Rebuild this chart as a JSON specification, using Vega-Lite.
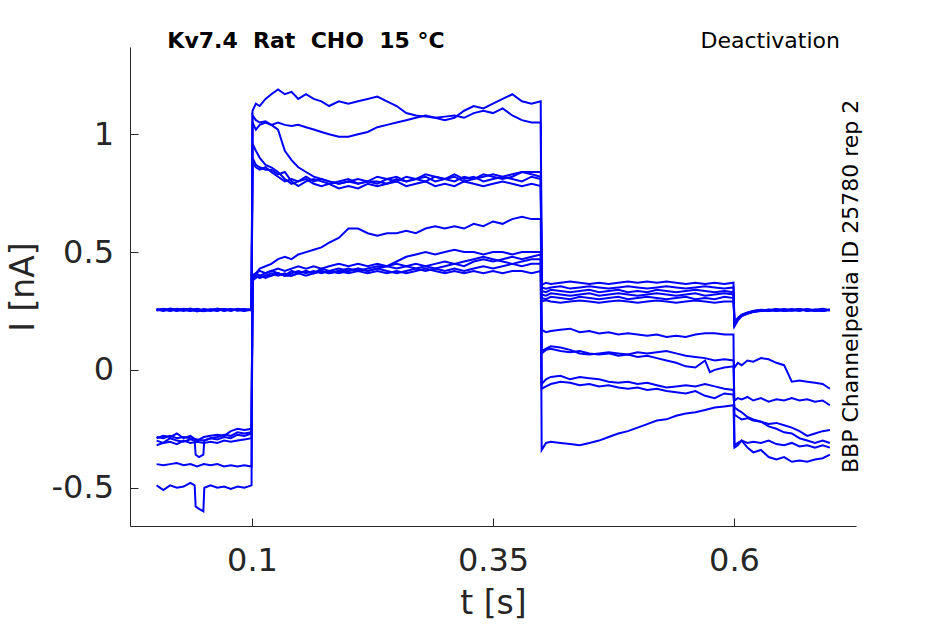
{
"$schema":"https://vega.github.io/schema/vega-lite/v6.json",
"width":726,"height":479,"autosize":"none",
"padding":{"left":130,"top":47,"right":89,"bottom":98},
"config":{"view":{"stroke":null},"font":"DejaVu Sans",
"axis":{"grid":false,"domainColor":"#262626","tickColor":"#262626","labelColor":"#262626","titleColor":"#262626","labelFontSize":32,"titleFontSize":33,"labelFont":"DejaVu Sans","titleFont":"DejaVu Sans","titleFontWeight":"normal","tickSize":-8,"titlePadding":11,"labelFlush":false,"labelOverlap":false},
"axisX":{"labelPadding":27},"axisY":{"labelPadding":24.5}},
"layer":[
{"data":{"values":[
{"s":1,"t":0.001,"v":0.258},{"s":1,"t":0.008,"v":0.252},{"s":1,"t":0.015,"v":0.26},{"s":1,"t":0.022,"v":0.255},{"s":1,"t":0.029,"v":0.25},{"s":1,"t":0.036,"v":0.258},{"s":1,"t":0.043,"v":0.248},{"s":1,"t":0.05,"v":0.256},{"s":1,"t":0.057,"v":0.252},{"s":1,"t":0.064,"v":0.26},{"s":1,"t":0.071,"v":0.254},{"s":1,"t":0.078,"v":0.258},{"s":1,"t":0.085,"v":0.251},{"s":1,"t":0.092,"v":0.257},{"s":1,"t":0.0995,"v":0.255},
{"s":1,"t":0.1005,"v":1.10},{"s":1,"t":0.104,"v":1.13},{"s":1,"t":0.108,"v":1.12},{"s":1,"t":0.114,"v":1.15},{"s":1,"t":0.12,"v":1.17},{"s":1,"t":0.127,"v":1.19},{"s":1,"t":0.134,"v":1.17},{"s":1,"t":0.141,"v":1.18},{"s":1,"t":0.148,"v":1.15},{"s":1,"t":0.156,"v":1.17},{"s":1,"t":0.164,"v":1.15},{"s":1,"t":0.172,"v":1.14},{"s":1,"t":0.18,"v":1.12},{"s":1,"t":0.19,"v":1.14},{"s":1,"t":0.2,"v":1.13},{"s":1,"t":0.21,"v":1.14},{"s":1,"t":0.22,"v":1.15},{"s":1,"t":0.23,"v":1.16},{"s":1,"t":0.24,"v":1.14},{"s":1,"t":0.25,"v":1.12},{"s":1,"t":0.26,"v":1.09},{"s":1,"t":0.27,"v":1.08},{"s":1,"t":0.28,"v":1.075},{"s":1,"t":0.29,"v":1.07},{"s":1,"t":0.3,"v":1.06},{"s":1,"t":0.31,"v":1.07},{"s":1,"t":0.32,"v":1.10},{"s":1,"t":0.33,"v":1.12},{"s":1,"t":0.34,"v":1.11},{"s":1,"t":0.35,"v":1.13},{"s":1,"t":0.36,"v":1.15},{"s":1,"t":0.37,"v":1.17},{"s":1,"t":0.38,"v":1.14},{"s":1,"t":0.39,"v":1.13},{"s":1,"t":0.3995,"v":1.14},
{"s":1,"t":0.4005,"v":0.36},{"s":1,"t":0.405,"v":0.37},{"s":1,"t":0.41,"v":0.365},{"s":1,"t":0.42,"v":0.37},{"s":1,"t":0.43,"v":0.375},{"s":1,"t":0.44,"v":0.37},{"s":1,"t":0.45,"v":0.365},{"s":1,"t":0.46,"v":0.37},{"s":1,"t":0.47,"v":0.365},{"s":1,"t":0.48,"v":0.37},{"s":1,"t":0.49,"v":0.375},{"s":1,"t":0.5,"v":0.37},{"s":1,"t":0.51,"v":0.375},{"s":1,"t":0.52,"v":0.37},{"s":1,"t":0.53,"v":0.375},{"s":1,"t":0.54,"v":0.37},{"s":1,"t":0.55,"v":0.365},{"s":1,"t":0.56,"v":0.37},{"s":1,"t":0.57,"v":0.365},{"s":1,"t":0.58,"v":0.37},{"s":1,"t":0.59,"v":0.365},{"s":1,"t":0.5995,"v":0.37},
{"s":1,"t":0.6005,"v":0.19},{"s":1,"t":0.604,"v":0.215},{"s":1,"t":0.608,"v":0.23},{"s":1,"t":0.614,"v":0.24},{"s":1,"t":0.62,"v":0.248},{"s":1,"t":0.628,"v":0.252},{"s":1,"t":0.636,"v":0.256},{"s":1,"t":0.644,"v":0.25},{"s":1,"t":0.652,"v":0.254},{"s":1,"t":0.66,"v":0.258},{"s":1,"t":0.668,"v":0.252},{"s":1,"t":0.676,"v":0.256},{"s":1,"t":0.684,"v":0.25},{"s":1,"t":0.692,"v":0.257},{"s":1,"t":0.6995,"v":0.254},

{"s":2,"t":0.001,"v":0.254},{"s":2,"t":0.008,"v":0.259},{"s":2,"t":0.015,"v":0.251},{"s":2,"t":0.022,"v":0.257},{"s":2,"t":0.029,"v":0.253},{"s":2,"t":0.036,"v":0.26},{"s":2,"t":0.043,"v":0.252},{"s":2,"t":0.05,"v":0.249},{"s":2,"t":0.057,"v":0.257},{"s":2,"t":0.064,"v":0.253},{"s":2,"t":0.071,"v":0.258},{"s":2,"t":0.078,"v":0.252},{"s":2,"t":0.085,"v":0.259},{"s":2,"t":0.092,"v":0.253},{"s":2,"t":0.0995,"v":0.256},
{"s":2,"t":0.1005,"v":1.05},{"s":2,"t":0.104,"v":1.02},{"s":2,"t":0.108,"v":1.04},{"s":2,"t":0.114,"v":1.05},{"s":2,"t":0.12,"v":1.04},{"s":2,"t":0.127,"v":1.05},{"s":2,"t":0.134,"v":1.04},{"s":2,"t":0.141,"v":1.035},{"s":2,"t":0.148,"v":1.04},{"s":2,"t":0.156,"v":1.03},{"s":2,"t":0.164,"v":1.02},{"s":2,"t":0.172,"v":1.01},{"s":2,"t":0.18,"v":1.00},{"s":2,"t":0.19,"v":0.99},{"s":2,"t":0.2,"v":0.99},{"s":2,"t":0.21,"v":1.00},{"s":2,"t":0.22,"v":1.01},{"s":2,"t":0.23,"v":1.03},{"s":2,"t":0.24,"v":1.04},{"s":2,"t":0.25,"v":1.05},{"s":2,"t":0.26,"v":1.06},{"s":2,"t":0.27,"v":1.07},{"s":2,"t":0.28,"v":1.08},{"s":2,"t":0.29,"v":1.07},{"s":2,"t":0.3,"v":1.075},{"s":2,"t":0.31,"v":1.08},{"s":2,"t":0.32,"v":1.07},{"s":2,"t":0.33,"v":1.09},{"s":2,"t":0.34,"v":1.10},{"s":2,"t":0.35,"v":1.09},{"s":2,"t":0.36,"v":1.11},{"s":2,"t":0.37,"v":1.08},{"s":2,"t":0.38,"v":1.06},{"s":2,"t":0.39,"v":1.05},{"s":2,"t":0.3995,"v":1.05},
{"s":2,"t":0.4005,"v":0.35},{"s":2,"t":0.405,"v":0.345},{"s":2,"t":0.41,"v":0.35},{"s":2,"t":0.42,"v":0.355},{"s":2,"t":0.43,"v":0.345},{"s":2,"t":0.44,"v":0.35},{"s":2,"t":0.45,"v":0.355},{"s":2,"t":0.46,"v":0.35},{"s":2,"t":0.47,"v":0.345},{"s":2,"t":0.48,"v":0.35},{"s":2,"t":0.49,"v":0.355},{"s":2,"t":0.5,"v":0.35},{"s":2,"t":0.51,"v":0.345},{"s":2,"t":0.52,"v":0.35},{"s":2,"t":0.53,"v":0.355},{"s":2,"t":0.54,"v":0.35},{"s":2,"t":0.55,"v":0.345},{"s":2,"t":0.56,"v":0.35},{"s":2,"t":0.57,"v":0.355},{"s":2,"t":0.58,"v":0.35},{"s":2,"t":0.59,"v":0.345},{"s":2,"t":0.5995,"v":0.35},
{"s":2,"t":0.6005,"v":0.2},{"s":2,"t":0.604,"v":0.22},{"s":2,"t":0.608,"v":0.232},{"s":2,"t":0.614,"v":0.242},{"s":2,"t":0.62,"v":0.25},{"s":2,"t":0.628,"v":0.254},{"s":2,"t":0.636,"v":0.25},{"s":2,"t":0.644,"v":0.256},{"s":2,"t":0.652,"v":0.252},{"s":2,"t":0.66,"v":0.255},{"s":2,"t":0.668,"v":0.25},{"s":2,"t":0.676,"v":0.258},{"s":2,"t":0.684,"v":0.253},{"s":2,"t":0.692,"v":0.25},{"s":2,"t":0.6995,"v":0.256},

{"s":3,"t":0.001,"v":0.256},{"s":3,"t":0.008,"v":0.25},{"s":3,"t":0.015,"v":0.257},{"s":3,"t":0.022,"v":0.252},{"s":3,"t":0.029,"v":0.258},{"s":3,"t":0.036,"v":0.251},{"s":3,"t":0.043,"v":0.256},{"s":3,"t":0.05,"v":0.254},{"s":3,"t":0.057,"v":0.25},{"s":3,"t":0.064,"v":0.257},{"s":3,"t":0.071,"v":0.252},{"s":3,"t":0.078,"v":0.256},{"s":3,"t":0.085,"v":0.254},{"s":3,"t":0.092,"v":0.25},{"s":3,"t":0.0995,"v":0.256},
{"s":3,"t":0.1005,"v":1.08},{"s":3,"t":0.104,"v":1.06},{"s":3,"t":0.108,"v":1.05},{"s":3,"t":0.114,"v":1.055},{"s":3,"t":0.12,"v":1.04},{"s":3,"t":0.127,"v":1.02},{"s":3,"t":0.134,"v":0.93},{"s":3,"t":0.141,"v":0.89},{"s":3,"t":0.148,"v":0.86},{"s":3,"t":0.156,"v":0.84},{"s":3,"t":0.164,"v":0.82},{"s":3,"t":0.172,"v":0.81},{"s":3,"t":0.18,"v":0.80},{"s":3,"t":0.19,"v":0.79},{"s":3,"t":0.2,"v":0.80},{"s":3,"t":0.21,"v":0.79},{"s":3,"t":0.22,"v":0.80},{"s":3,"t":0.23,"v":0.80},{"s":3,"t":0.24,"v":0.79},{"s":3,"t":0.25,"v":0.81},{"s":3,"t":0.26,"v":0.80},{"s":3,"t":0.27,"v":0.81},{"s":3,"t":0.28,"v":0.82},{"s":3,"t":0.29,"v":0.80},{"s":3,"t":0.3,"v":0.81},{"s":3,"t":0.31,"v":0.82},{"s":3,"t":0.32,"v":0.80},{"s":3,"t":0.33,"v":0.81},{"s":3,"t":0.34,"v":0.82},{"s":3,"t":0.35,"v":0.83},{"s":3,"t":0.36,"v":0.82},{"s":3,"t":0.37,"v":0.83},{"s":3,"t":0.38,"v":0.84},{"s":3,"t":0.39,"v":0.84},{"s":3,"t":0.3995,"v":0.84},
{"s":3,"t":0.4005,"v":0.335},{"s":3,"t":0.405,"v":0.33},{"s":3,"t":0.41,"v":0.34},{"s":3,"t":0.42,"v":0.335},{"s":3,"t":0.43,"v":0.33},{"s":3,"t":0.44,"v":0.335},{"s":3,"t":0.45,"v":0.34},{"s":3,"t":0.46,"v":0.33},{"s":3,"t":0.47,"v":0.335},{"s":3,"t":0.48,"v":0.34},{"s":3,"t":0.49,"v":0.33},{"s":3,"t":0.5,"v":0.335},{"s":3,"t":0.51,"v":0.33},{"s":3,"t":0.52,"v":0.34},{"s":3,"t":0.53,"v":0.335},{"s":3,"t":0.54,"v":0.33},{"s":3,"t":0.55,"v":0.335},{"s":3,"t":0.56,"v":0.34},{"s":3,"t":0.57,"v":0.335},{"s":3,"t":0.58,"v":0.33},{"s":3,"t":0.59,"v":0.335},{"s":3,"t":0.5995,"v":0.33},
{"s":3,"t":0.6005,"v":0.185},{"s":3,"t":0.604,"v":0.21},{"s":3,"t":0.608,"v":0.228},{"s":3,"t":0.614,"v":0.238},{"s":3,"t":0.62,"v":0.246},{"s":3,"t":0.628,"v":0.25},{"s":3,"t":0.636,"v":0.254},{"s":3,"t":0.644,"v":0.258},{"s":3,"t":0.652,"v":0.25},{"s":3,"t":0.66,"v":0.253},{"s":3,"t":0.668,"v":0.257},{"s":3,"t":0.676,"v":0.25},{"s":3,"t":0.684,"v":0.255},{"s":3,"t":0.692,"v":0.259},{"s":3,"t":0.6995,"v":0.252},

{"s":4,"t":0.001,"v":0.252},{"s":4,"t":0.008,"v":0.256},{"s":4,"t":0.015,"v":0.25},{"s":4,"t":0.022,"v":0.259},{"s":4,"t":0.029,"v":0.254},{"s":4,"t":0.036,"v":0.25},{"s":4,"t":0.043,"v":0.257},{"s":4,"t":0.05,"v":0.252},{"s":4,"t":0.057,"v":0.256},{"s":4,"t":0.064,"v":0.25},{"s":4,"t":0.071,"v":0.258},{"s":4,"t":0.078,"v":0.253},{"s":4,"t":0.085,"v":0.256},{"s":4,"t":0.092,"v":0.252},{"s":4,"t":0.0995,"v":0.258},
{"s":4,"t":0.1005,"v":0.96},{"s":4,"t":0.104,"v":0.93},{"s":4,"t":0.108,"v":0.90},{"s":4,"t":0.114,"v":0.87},{"s":4,"t":0.12,"v":0.86},{"s":4,"t":0.127,"v":0.84},{"s":4,"t":0.134,"v":0.81},{"s":4,"t":0.141,"v":0.79},{"s":4,"t":0.148,"v":0.80},{"s":4,"t":0.156,"v":0.81},{"s":4,"t":0.164,"v":0.79},{"s":4,"t":0.172,"v":0.78},{"s":4,"t":0.18,"v":0.79},{"s":4,"t":0.19,"v":0.77},{"s":4,"t":0.2,"v":0.78},{"s":4,"t":0.21,"v":0.77},{"s":4,"t":0.22,"v":0.79},{"s":4,"t":0.23,"v":0.78},{"s":4,"t":0.24,"v":0.79},{"s":4,"t":0.25,"v":0.80},{"s":4,"t":0.26,"v":0.78},{"s":4,"t":0.27,"v":0.79},{"s":4,"t":0.28,"v":0.80},{"s":4,"t":0.29,"v":0.78},{"s":4,"t":0.3,"v":0.79},{"s":4,"t":0.31,"v":0.78},{"s":4,"t":0.32,"v":0.80},{"s":4,"t":0.33,"v":0.79},{"s":4,"t":0.34,"v":0.78},{"s":4,"t":0.35,"v":0.79},{"s":4,"t":0.36,"v":0.80},{"s":4,"t":0.37,"v":0.79},{"s":4,"t":0.38,"v":0.78},{"s":4,"t":0.39,"v":0.79},{"s":4,"t":0.3995,"v":0.78},
{"s":4,"t":0.4005,"v":0.32},{"s":4,"t":0.405,"v":0.315},{"s":4,"t":0.41,"v":0.325},{"s":4,"t":0.42,"v":0.32},{"s":4,"t":0.43,"v":0.315},{"s":4,"t":0.44,"v":0.32},{"s":4,"t":0.45,"v":0.325},{"s":4,"t":0.46,"v":0.315},{"s":4,"t":0.47,"v":0.32},{"s":4,"t":0.48,"v":0.325},{"s":4,"t":0.49,"v":0.32},{"s":4,"t":0.5,"v":0.315},{"s":4,"t":0.51,"v":0.32},{"s":4,"t":0.52,"v":0.325},{"s":4,"t":0.53,"v":0.32},{"s":4,"t":0.54,"v":0.315},{"s":4,"t":0.55,"v":0.32},{"s":4,"t":0.56,"v":0.325},{"s":4,"t":0.57,"v":0.315},{"s":4,"t":0.58,"v":0.32},{"s":4,"t":0.59,"v":0.325},{"s":4,"t":0.5995,"v":0.32},
{"s":4,"t":0.6005,"v":0.19},{"s":4,"t":0.604,"v":0.212},{"s":4,"t":0.608,"v":0.23},{"s":4,"t":0.614,"v":0.24},{"s":4,"t":0.62,"v":0.247},{"s":4,"t":0.628,"v":0.251},{"s":4,"t":0.636,"v":0.255},{"s":4,"t":0.644,"v":0.25},{"s":4,"t":0.652,"v":0.256},{"s":4,"t":0.66,"v":0.252},{"s":4,"t":0.668,"v":0.257},{"s":4,"t":0.676,"v":0.251},{"s":4,"t":0.684,"v":0.254},{"s":4,"t":0.692,"v":0.25},{"s":4,"t":0.6995,"v":0.255},

{"s":5,"t":0.001,"v":0.257},{"s":5,"t":0.008,"v":0.253},{"s":5,"t":0.015,"v":0.258},{"s":5,"t":0.022,"v":0.25},{"s":5,"t":0.029,"v":0.256},{"s":5,"t":0.036,"v":0.254},{"s":5,"t":0.043,"v":0.259},{"s":5,"t":0.05,"v":0.251},{"s":5,"t":0.057,"v":0.255},{"s":5,"t":0.064,"v":0.258},{"s":5,"t":0.071,"v":0.25},{"s":5,"t":0.078,"v":0.256},{"s":5,"t":0.085,"v":0.253},{"s":5,"t":0.092,"v":0.258},{"s":5,"t":0.0995,"v":0.252},
{"s":5,"t":0.1005,"v":0.90},{"s":5,"t":0.104,"v":0.87},{"s":5,"t":0.108,"v":0.86},{"s":5,"t":0.114,"v":0.85},{"s":5,"t":0.12,"v":0.85},{"s":5,"t":0.127,"v":0.83},{"s":5,"t":0.134,"v":0.84},{"s":5,"t":0.141,"v":0.80},{"s":5,"t":0.148,"v":0.78},{"s":5,"t":0.156,"v":0.80},{"s":5,"t":0.164,"v":0.81},{"s":5,"t":0.172,"v":0.80},{"s":5,"t":0.18,"v":0.79},{"s":5,"t":0.19,"v":0.80},{"s":5,"t":0.2,"v":0.81},{"s":5,"t":0.21,"v":0.79},{"s":5,"t":0.22,"v":0.80},{"s":5,"t":0.23,"v":0.82},{"s":5,"t":0.24,"v":0.81},{"s":5,"t":0.25,"v":0.80},{"s":5,"t":0.26,"v":0.82},{"s":5,"t":0.27,"v":0.81},{"s":5,"t":0.28,"v":0.80},{"s":5,"t":0.29,"v":0.82},{"s":5,"t":0.3,"v":0.81},{"s":5,"t":0.31,"v":0.83},{"s":5,"t":0.32,"v":0.81},{"s":5,"t":0.33,"v":0.82},{"s":5,"t":0.34,"v":0.80},{"s":5,"t":0.35,"v":0.81},{"s":5,"t":0.36,"v":0.82},{"s":5,"t":0.37,"v":0.81},{"s":5,"t":0.38,"v":0.80},{"s":5,"t":0.39,"v":0.82},{"s":5,"t":0.3995,"v":0.81},
{"s":5,"t":0.4005,"v":0.305},{"s":5,"t":0.405,"v":0.3},{"s":5,"t":0.41,"v":0.31},{"s":5,"t":0.42,"v":0.305},{"s":5,"t":0.43,"v":0.3},{"s":5,"t":0.44,"v":0.31},{"s":5,"t":0.45,"v":0.305},{"s":5,"t":0.46,"v":0.3},{"s":5,"t":0.47,"v":0.305},{"s":5,"t":0.48,"v":0.31},{"s":5,"t":0.49,"v":0.3},{"s":5,"t":0.5,"v":0.305},{"s":5,"t":0.51,"v":0.31},{"s":5,"t":0.52,"v":0.305},{"s":5,"t":0.53,"v":0.3},{"s":5,"t":0.54,"v":0.305},{"s":5,"t":0.55,"v":0.31},{"s":5,"t":0.56,"v":0.3},{"s":5,"t":0.57,"v":0.305},{"s":5,"t":0.58,"v":0.3},{"s":5,"t":0.59,"v":0.31},{"s":5,"t":0.5995,"v":0.305},
{"s":5,"t":0.6005,"v":0.195},{"s":5,"t":0.604,"v":0.218},{"s":5,"t":0.608,"v":0.232},{"s":5,"t":0.614,"v":0.242},{"s":5,"t":0.62,"v":0.248},{"s":5,"t":0.628,"v":0.253},{"s":5,"t":0.636,"v":0.25},{"s":5,"t":0.644,"v":0.255},{"s":5,"t":0.652,"v":0.258},{"s":5,"t":0.66,"v":0.251},{"s":5,"t":0.668,"v":0.254},{"s":5,"t":0.676,"v":0.257},{"s":5,"t":0.684,"v":0.25},{"s":5,"t":0.692,"v":0.255},{"s":5,"t":0.6995,"v":0.253},

{"s":6,"t":0.001,"v":0.253},{"s":6,"t":0.008,"v":0.258},{"s":6,"t":0.015,"v":0.254},{"s":6,"t":0.022,"v":0.252},{"s":6,"t":0.029,"v":0.259},{"s":6,"t":0.036,"v":0.255},{"s":6,"t":0.043,"v":0.25},{"s":6,"t":0.05,"v":0.258},{"s":6,"t":0.057,"v":0.254},{"s":6,"t":0.064,"v":0.252},{"s":6,"t":0.071,"v":0.257},{"s":6,"t":0.078,"v":0.25},{"s":6,"t":0.085,"v":0.258},{"s":6,"t":0.092,"v":0.255},{"s":6,"t":0.0995,"v":0.254},
{"s":6,"t":0.1005,"v":0.88},{"s":6,"t":0.104,"v":0.86},{"s":6,"t":0.108,"v":0.85},{"s":6,"t":0.114,"v":0.86},{"s":6,"t":0.12,"v":0.84},{"s":6,"t":0.127,"v":0.82},{"s":6,"t":0.134,"v":0.80},{"s":6,"t":0.141,"v":0.81},{"s":6,"t":0.148,"v":0.80},{"s":6,"t":0.156,"v":0.82},{"s":6,"t":0.164,"v":0.80},{"s":6,"t":0.172,"v":0.81},{"s":6,"t":0.18,"v":0.80},{"s":6,"t":0.19,"v":0.79},{"s":6,"t":0.2,"v":0.80},{"s":6,"t":0.21,"v":0.81},{"s":6,"t":0.22,"v":0.80},{"s":6,"t":0.23,"v":0.79},{"s":6,"t":0.24,"v":0.81},{"s":6,"t":0.25,"v":0.82},{"s":6,"t":0.26,"v":0.80},{"s":6,"t":0.27,"v":0.81},{"s":6,"t":0.28,"v":0.83},{"s":6,"t":0.29,"v":0.82},{"s":6,"t":0.3,"v":0.81},{"s":6,"t":0.31,"v":0.80},{"s":6,"t":0.32,"v":0.82},{"s":6,"t":0.33,"v":0.81},{"s":6,"t":0.34,"v":0.83},{"s":6,"t":0.35,"v":0.82},{"s":6,"t":0.36,"v":0.81},{"s":6,"t":0.37,"v":0.82},{"s":6,"t":0.38,"v":0.84},{"s":6,"t":0.39,"v":0.83},{"s":6,"t":0.3995,"v":0.82},
{"s":6,"t":0.4005,"v":0.29},{"s":6,"t":0.405,"v":0.295},{"s":6,"t":0.41,"v":0.29},{"s":6,"t":0.42,"v":0.285},{"s":6,"t":0.43,"v":0.29},{"s":6,"t":0.44,"v":0.295},{"s":6,"t":0.45,"v":0.29},{"s":6,"t":0.46,"v":0.285},{"s":6,"t":0.47,"v":0.29},{"s":6,"t":0.48,"v":0.295},{"s":6,"t":0.49,"v":0.29},{"s":6,"t":0.5,"v":0.285},{"s":6,"t":0.51,"v":0.29},{"s":6,"t":0.52,"v":0.295},{"s":6,"t":0.53,"v":0.29},{"s":6,"t":0.54,"v":0.285},{"s":6,"t":0.55,"v":0.29},{"s":6,"t":0.56,"v":0.295},{"s":6,"t":0.57,"v":0.29},{"s":6,"t":0.58,"v":0.285},{"s":6,"t":0.59,"v":0.29},{"s":6,"t":0.5995,"v":0.29},
{"s":6,"t":0.6005,"v":0.2},{"s":6,"t":0.604,"v":0.22},{"s":6,"t":0.608,"v":0.235},{"s":6,"t":0.614,"v":0.244},{"s":6,"t":0.62,"v":0.25},{"s":6,"t":0.628,"v":0.255},{"s":6,"t":0.636,"v":0.252},{"s":6,"t":0.644,"v":0.256},{"s":6,"t":0.652,"v":0.25},{"s":6,"t":0.66,"v":0.254},{"s":6,"t":0.668,"v":0.258},{"s":6,"t":0.676,"v":0.252},{"s":6,"t":0.684,"v":0.256},{"s":6,"t":0.692,"v":0.251},{"s":6,"t":0.6995,"v":0.255},

{"s":7,"t":0.001,"v":-0.29},{"s":7,"t":0.008,"v":-0.28},{"s":7,"t":0.015,"v":-0.285},{"s":7,"t":0.022,"v":-0.27},{"s":7,"t":0.029,"v":-0.29},{"s":7,"t":0.036,"v":-0.28},{"s":7,"t":0.043,"v":-0.3},{"s":7,"t":0.05,"v":-0.285},{"s":7,"t":0.057,"v":-0.28},{"s":7,"t":0.064,"v":-0.275},{"s":7,"t":0.071,"v":-0.28},{"s":7,"t":0.078,"v":-0.26},{"s":7,"t":0.085,"v":-0.25},{"s":7,"t":0.092,"v":-0.255},{"s":7,"t":0.0995,"v":-0.25},
{"s":7,"t":0.1005,"v":0.40},{"s":7,"t":0.104,"v":0.41},{"s":7,"t":0.108,"v":0.43},{"s":7,"t":0.114,"v":0.44},{"s":7,"t":0.12,"v":0.45},{"s":7,"t":0.127,"v":0.47},{"s":7,"t":0.134,"v":0.48},{"s":7,"t":0.141,"v":0.47},{"s":7,"t":0.148,"v":0.49},{"s":7,"t":0.156,"v":0.50},{"s":7,"t":0.164,"v":0.51},{"s":7,"t":0.172,"v":0.52},{"s":7,"t":0.18,"v":0.54},{"s":7,"t":0.19,"v":0.56},{"s":7,"t":0.2,"v":0.60},{"s":7,"t":0.21,"v":0.60},{"s":7,"t":0.22,"v":0.58},{"s":7,"t":0.23,"v":0.57},{"s":7,"t":0.24,"v":0.58},{"s":7,"t":0.25,"v":0.58},{"s":7,"t":0.26,"v":0.59},{"s":7,"t":0.27,"v":0.58},{"s":7,"t":0.28,"v":0.60},{"s":7,"t":0.29,"v":0.61},{"s":7,"t":0.3,"v":0.60},{"s":7,"t":0.31,"v":0.61},{"s":7,"t":0.32,"v":0.60},{"s":7,"t":0.33,"v":0.62},{"s":7,"t":0.34,"v":0.61},{"s":7,"t":0.35,"v":0.63},{"s":7,"t":0.36,"v":0.62},{"s":7,"t":0.37,"v":0.64},{"s":7,"t":0.38,"v":0.65},{"s":7,"t":0.39,"v":0.64},{"s":7,"t":0.3995,"v":0.64},
{"s":7,"t":0.4005,"v":0.17},{"s":7,"t":0.405,"v":0.16},{"s":7,"t":0.41,"v":0.165},{"s":7,"t":0.42,"v":0.17},{"s":7,"t":0.43,"v":0.175},{"s":7,"t":0.44,"v":0.16},{"s":7,"t":0.45,"v":0.165},{"s":7,"t":0.46,"v":0.155},{"s":7,"t":0.47,"v":0.16},{"s":7,"t":0.48,"v":0.15},{"s":7,"t":0.49,"v":0.155},{"s":7,"t":0.5,"v":0.15},{"s":7,"t":0.51,"v":0.145},{"s":7,"t":0.52,"v":0.15},{"s":7,"t":0.53,"v":0.14},{"s":7,"t":0.54,"v":0.145},{"s":7,"t":0.55,"v":0.14},{"s":7,"t":0.56,"v":0.15},{"s":7,"t":0.57,"v":0.155},{"s":7,"t":0.58,"v":0.155},{"s":7,"t":0.59,"v":0.15},{"s":7,"t":0.5995,"v":0.15},
{"s":7,"t":0.6005,"v":-0.33},{"s":7,"t":0.604,"v":-0.32},{"s":7,"t":0.608,"v":-0.30},{"s":7,"t":0.614,"v":-0.33},{"s":7,"t":0.62,"v":-0.35},{"s":7,"t":0.628,"v":-0.34},{"s":7,"t":0.636,"v":-0.37},{"s":7,"t":0.644,"v":-0.38},{"s":7,"t":0.652,"v":-0.37},{"s":7,"t":0.66,"v":-0.39},{"s":7,"t":0.668,"v":-0.385},{"s":7,"t":0.676,"v":-0.39},{"s":7,"t":0.684,"v":-0.38},{"s":7,"t":0.692,"v":-0.375},{"s":7,"t":0.6995,"v":-0.36},

{"s":8,"t":0.001,"v":-0.3},{"s":8,"t":0.008,"v":-0.31},{"s":8,"t":0.015,"v":-0.29},{"s":8,"t":0.022,"v":-0.3},{"s":8,"t":0.029,"v":-0.305},{"s":8,"t":0.036,"v":-0.295},{"s":8,"t":0.0405,"v":-0.3},{"s":8,"t":0.0415,"v":-0.36},{"s":8,"t":0.045,"v":-0.37},{"s":8,"t":0.0495,"v":-0.36},{"s":8,"t":0.0505,"v":-0.3},{"s":8,"t":0.057,"v":-0.29},{"s":8,"t":0.064,"v":-0.295},{"s":8,"t":0.071,"v":-0.285},{"s":8,"t":0.078,"v":-0.29},{"s":8,"t":0.085,"v":-0.275},{"s":8,"t":0.092,"v":-0.28},{"s":8,"t":0.0995,"v":-0.27},
{"s":8,"t":0.1005,"v":0.39},{"s":8,"t":0.104,"v":0.40},{"s":8,"t":0.108,"v":0.39},{"s":8,"t":0.114,"v":0.40},{"s":8,"t":0.12,"v":0.41},{"s":8,"t":0.127,"v":0.40},{"s":8,"t":0.134,"v":0.41},{"s":8,"t":0.141,"v":0.40},{"s":8,"t":0.148,"v":0.41},{"s":8,"t":0.156,"v":0.42},{"s":8,"t":0.164,"v":0.41},{"s":8,"t":0.172,"v":0.42},{"s":8,"t":0.18,"v":0.41},{"s":8,"t":0.19,"v":0.42},{"s":8,"t":0.2,"v":0.43},{"s":8,"t":0.21,"v":0.42},{"s":8,"t":0.22,"v":0.43},{"s":8,"t":0.23,"v":0.44},{"s":8,"t":0.24,"v":0.44},{"s":8,"t":0.25,"v":0.46},{"s":8,"t":0.26,"v":0.48},{"s":8,"t":0.27,"v":0.49},{"s":8,"t":0.28,"v":0.50},{"s":8,"t":0.29,"v":0.49},{"s":8,"t":0.3,"v":0.50},{"s":8,"t":0.31,"v":0.51},{"s":8,"t":0.32,"v":0.50},{"s":8,"t":0.33,"v":0.50},{"s":8,"t":0.34,"v":0.49},{"s":8,"t":0.35,"v":0.50},{"s":8,"t":0.36,"v":0.50},{"s":8,"t":0.37,"v":0.49},{"s":8,"t":0.38,"v":0.50},{"s":8,"t":0.39,"v":0.50},{"s":8,"t":0.3995,"v":0.50},
{"s":8,"t":0.4005,"v":0.08},{"s":8,"t":0.405,"v":0.09},{"s":8,"t":0.41,"v":0.10},{"s":8,"t":0.42,"v":0.095},{"s":8,"t":0.43,"v":0.085},{"s":8,"t":0.44,"v":0.07},{"s":8,"t":0.45,"v":0.065},{"s":8,"t":0.46,"v":0.07},{"s":8,"t":0.47,"v":0.075},{"s":8,"t":0.48,"v":0.07},{"s":8,"t":0.49,"v":0.065},{"s":8,"t":0.5,"v":0.075},{"s":8,"t":0.51,"v":0.07},{"s":8,"t":0.52,"v":0.075},{"s":8,"t":0.53,"v":0.08},{"s":8,"t":0.54,"v":0.07},{"s":8,"t":0.55,"v":0.06},{"s":8,"t":0.56,"v":0.055},{"s":8,"t":0.57,"v":0.05},{"s":8,"t":0.58,"v":0.04},{"s":8,"t":0.59,"v":0.045},{"s":8,"t":0.5995,"v":0.04},
{"s":8,"t":0.6005,"v":0.01},{"s":8,"t":0.604,"v":0.03},{"s":8,"t":0.608,"v":0.02},{"s":8,"t":0.614,"v":0.04},{"s":8,"t":0.62,"v":0.035},{"s":8,"t":0.628,"v":0.05},{"s":8,"t":0.636,"v":0.045},{"s":8,"t":0.644,"v":0.03},{"s":8,"t":0.652,"v":0.02},{"s":8,"t":0.66,"v":-0.05},{"s":8,"t":0.668,"v":-0.045},{"s":8,"t":0.676,"v":-0.05},{"s":8,"t":0.684,"v":-0.055},{"s":8,"t":0.692,"v":-0.06},{"s":8,"t":0.6995,"v":-0.08},

{"s":9,"t":0.001,"v":-0.32},{"s":9,"t":0.008,"v":-0.31},{"s":9,"t":0.015,"v":-0.305},{"s":9,"t":0.022,"v":-0.315},{"s":9,"t":0.029,"v":-0.3},{"s":9,"t":0.036,"v":-0.31},{"s":9,"t":0.043,"v":-0.305},{"s":9,"t":0.05,"v":-0.31},{"s":9,"t":0.057,"v":-0.305},{"s":9,"t":0.064,"v":-0.31},{"s":9,"t":0.071,"v":-0.3},{"s":9,"t":0.078,"v":-0.305},{"s":9,"t":0.085,"v":-0.3},{"s":9,"t":0.092,"v":-0.295},{"s":9,"t":0.0995,"v":-0.29},
{"s":9,"t":0.1005,"v":0.38},{"s":9,"t":0.104,"v":0.39},{"s":9,"t":0.108,"v":0.40},{"s":9,"t":0.114,"v":0.39},{"s":9,"t":0.12,"v":0.40},{"s":9,"t":0.127,"v":0.41},{"s":9,"t":0.134,"v":0.40},{"s":9,"t":0.141,"v":0.41},{"s":9,"t":0.148,"v":0.42},{"s":9,"t":0.156,"v":0.41},{"s":9,"t":0.164,"v":0.42},{"s":9,"t":0.172,"v":0.41},{"s":9,"t":0.18,"v":0.42},{"s":9,"t":0.19,"v":0.43},{"s":9,"t":0.2,"v":0.42},{"s":9,"t":0.21,"v":0.43},{"s":9,"t":0.22,"v":0.42},{"s":9,"t":0.23,"v":0.43},{"s":9,"t":0.24,"v":0.44},{"s":9,"t":0.25,"v":0.43},{"s":9,"t":0.26,"v":0.44},{"s":9,"t":0.27,"v":0.43},{"s":9,"t":0.28,"v":0.44},{"s":9,"t":0.29,"v":0.43},{"s":9,"t":0.3,"v":0.44},{"s":9,"t":0.31,"v":0.45},{"s":9,"t":0.32,"v":0.44},{"s":9,"t":0.33,"v":0.46},{"s":9,"t":0.34,"v":0.47},{"s":9,"t":0.35,"v":0.46},{"s":9,"t":0.36,"v":0.47},{"s":9,"t":0.37,"v":0.48},{"s":9,"t":0.38,"v":0.47},{"s":9,"t":0.39,"v":0.48},{"s":9,"t":0.3995,"v":0.49},
{"s":9,"t":0.4005,"v":0.07},{"s":9,"t":0.405,"v":0.085},{"s":9,"t":0.41,"v":0.09},{"s":9,"t":0.42,"v":0.08},{"s":9,"t":0.43,"v":0.075},{"s":9,"t":0.44,"v":0.08},{"s":9,"t":0.45,"v":0.07},{"s":9,"t":0.46,"v":0.065},{"s":9,"t":0.47,"v":0.07},{"s":9,"t":0.48,"v":0.06},{"s":9,"t":0.49,"v":0.065},{"s":9,"t":0.5,"v":0.055},{"s":9,"t":0.51,"v":0.06},{"s":9,"t":0.52,"v":0.05},{"s":9,"t":0.53,"v":0.04},{"s":9,"t":0.54,"v":0.03},{"s":9,"t":0.55,"v":0.015},{"s":9,"t":0.56,"v":0.01},{"s":9,"t":0.57,"v":0.04},{"s":9,"t":0.575,"v":-0.01},{"s":9,"t":0.58,"v":0.0},{"s":9,"t":0.59,"v":0.01},{"s":9,"t":0.5995,"v":0.015},
{"s":9,"t":0.6005,"v":-0.13},{"s":9,"t":0.604,"v":-0.12},{"s":9,"t":0.608,"v":-0.125},{"s":9,"t":0.614,"v":-0.115},{"s":9,"t":0.62,"v":-0.13},{"s":9,"t":0.628,"v":-0.12},{"s":9,"t":0.636,"v":-0.135},{"s":9,"t":0.644,"v":-0.125},{"s":9,"t":0.652,"v":-0.13},{"s":9,"t":0.66,"v":-0.12},{"s":9,"t":0.668,"v":-0.13},{"s":9,"t":0.676,"v":-0.125},{"s":9,"t":0.684,"v":-0.135},{"s":9,"t":0.692,"v":-0.13},{"s":9,"t":0.6995,"v":-0.15},

{"s":10,"t":0.001,"v":-0.285},{"s":10,"t":0.008,"v":-0.29},{"s":10,"t":0.015,"v":-0.28},{"s":10,"t":0.022,"v":-0.29},{"s":10,"t":0.029,"v":-0.285},{"s":10,"t":0.036,"v":-0.29},{"s":10,"t":0.043,"v":-0.295},{"s":10,"t":0.05,"v":-0.3},{"s":10,"t":0.057,"v":-0.29},{"s":10,"t":0.064,"v":-0.285},{"s":10,"t":0.071,"v":-0.275},{"s":10,"t":0.078,"v":-0.28},{"s":10,"t":0.085,"v":-0.265},{"s":10,"t":0.092,"v":-0.27},{"s":10,"t":0.0995,"v":-0.265},
{"s":10,"t":0.1005,"v":0.40},{"s":10,"t":0.104,"v":0.41},{"s":10,"t":0.108,"v":0.40},{"s":10,"t":0.114,"v":0.41},{"s":10,"t":0.12,"v":0.42},{"s":10,"t":0.127,"v":0.41},{"s":10,"t":0.134,"v":0.40},{"s":10,"t":0.141,"v":0.42},{"s":10,"t":0.148,"v":0.41},{"s":10,"t":0.156,"v":0.42},{"s":10,"t":0.164,"v":0.41},{"s":10,"t":0.172,"v":0.43},{"s":10,"t":0.18,"v":0.42},{"s":10,"t":0.19,"v":0.41},{"s":10,"t":0.2,"v":0.42},{"s":10,"t":0.21,"v":0.43},{"s":10,"t":0.22,"v":0.42},{"s":10,"t":0.23,"v":0.43},{"s":10,"t":0.24,"v":0.42},{"s":10,"t":0.25,"v":0.41},{"s":10,"t":0.26,"v":0.42},{"s":10,"t":0.27,"v":0.43},{"s":10,"t":0.28,"v":0.42},{"s":10,"t":0.29,"v":0.43},{"s":10,"t":0.3,"v":0.42},{"s":10,"t":0.31,"v":0.43},{"s":10,"t":0.32,"v":0.42},{"s":10,"t":0.33,"v":0.43},{"s":10,"t":0.34,"v":0.44},{"s":10,"t":0.35,"v":0.43},{"s":10,"t":0.36,"v":0.44},{"s":10,"t":0.37,"v":0.45},{"s":10,"t":0.38,"v":0.46},{"s":10,"t":0.39,"v":0.47},{"s":10,"t":0.3995,"v":0.47},
{"s":10,"t":0.4005,"v":-0.06},{"s":10,"t":0.405,"v":-0.04},{"s":10,"t":0.41,"v":-0.03},{"s":10,"t":0.42,"v":-0.025},{"s":10,"t":0.43,"v":-0.04},{"s":10,"t":0.44,"v":-0.03},{"s":10,"t":0.45,"v":-0.035},{"s":10,"t":0.46,"v":-0.04},{"s":10,"t":0.47,"v":-0.05},{"s":10,"t":0.48,"v":-0.055},{"s":10,"t":0.49,"v":-0.05},{"s":10,"t":0.5,"v":-0.06},{"s":10,"t":0.51,"v":-0.055},{"s":10,"t":0.52,"v":-0.065},{"s":10,"t":0.53,"v":-0.075},{"s":10,"t":0.54,"v":-0.07},{"s":10,"t":0.55,"v":-0.065},{"s":10,"t":0.56,"v":-0.07},{"s":10,"t":0.57,"v":-0.06},{"s":10,"t":0.58,"v":-0.07},{"s":10,"t":0.59,"v":-0.08},{"s":10,"t":0.5995,"v":-0.085},
{"s":10,"t":0.6005,"v":-0.19},{"s":10,"t":0.604,"v":-0.2},{"s":10,"t":0.608,"v":-0.21},{"s":10,"t":0.614,"v":-0.205},{"s":10,"t":0.62,"v":-0.215},{"s":10,"t":0.628,"v":-0.22},{"s":10,"t":0.636,"v":-0.23},{"s":10,"t":0.644,"v":-0.225},{"s":10,"t":0.652,"v":-0.235},{"s":10,"t":0.66,"v":-0.245},{"s":10,"t":0.668,"v":-0.26},{"s":10,"t":0.676,"v":-0.28},{"s":10,"t":0.684,"v":-0.27},{"s":10,"t":0.692,"v":-0.26},{"s":10,"t":0.6995,"v":-0.255},

{"s":11,"t":0.001,"v":-0.4},{"s":11,"t":0.008,"v":-0.405},{"s":11,"t":0.015,"v":-0.4},{"s":11,"t":0.022,"v":-0.395},{"s":11,"t":0.029,"v":-0.405},{"s":11,"t":0.036,"v":-0.4},{"s":11,"t":0.043,"v":-0.41},{"s":11,"t":0.05,"v":-0.4},{"s":11,"t":0.057,"v":-0.405},{"s":11,"t":0.064,"v":-0.4},{"s":11,"t":0.071,"v":-0.41},{"s":11,"t":0.078,"v":-0.405},{"s":11,"t":0.085,"v":-0.41},{"s":11,"t":0.092,"v":-0.405},{"s":11,"t":0.0995,"v":-0.41},
{"s":11,"t":0.1005,"v":0.39},{"s":11,"t":0.104,"v":0.40},{"s":11,"t":0.108,"v":0.39},{"s":11,"t":0.114,"v":0.40},{"s":11,"t":0.12,"v":0.40},{"s":11,"t":0.127,"v":0.41},{"s":11,"t":0.134,"v":0.40},{"s":11,"t":0.141,"v":0.40},{"s":11,"t":0.148,"v":0.41},{"s":11,"t":0.156,"v":0.40},{"s":11,"t":0.164,"v":0.41},{"s":11,"t":0.172,"v":0.42},{"s":11,"t":0.18,"v":0.41},{"s":11,"t":0.19,"v":0.42},{"s":11,"t":0.2,"v":0.41},{"s":11,"t":0.21,"v":0.42},{"s":11,"t":0.22,"v":0.41},{"s":11,"t":0.23,"v":0.42},{"s":11,"t":0.24,"v":0.41},{"s":11,"t":0.25,"v":0.42},{"s":11,"t":0.26,"v":0.41},{"s":11,"t":0.27,"v":0.42},{"s":11,"t":0.28,"v":0.43},{"s":11,"t":0.29,"v":0.42},{"s":11,"t":0.3,"v":0.41},{"s":11,"t":0.31,"v":0.42},{"s":11,"t":0.32,"v":0.41},{"s":11,"t":0.33,"v":0.42},{"s":11,"t":0.34,"v":0.41},{"s":11,"t":0.35,"v":0.42},{"s":11,"t":0.36,"v":0.41},{"s":11,"t":0.37,"v":0.42},{"s":11,"t":0.38,"v":0.42},{"s":11,"t":0.39,"v":0.41},{"s":11,"t":0.3995,"v":0.42},
{"s":11,"t":0.4005,"v":-0.08},{"s":11,"t":0.405,"v":-0.07},{"s":11,"t":0.41,"v":-0.06},{"s":11,"t":0.42,"v":-0.05},{"s":11,"t":0.43,"v":-0.055},{"s":11,"t":0.44,"v":-0.065},{"s":11,"t":0.45,"v":-0.06},{"s":11,"t":0.46,"v":-0.07},{"s":11,"t":0.47,"v":-0.065},{"s":11,"t":0.48,"v":-0.075},{"s":11,"t":0.49,"v":-0.08},{"s":11,"t":0.5,"v":-0.075},{"s":11,"t":0.51,"v":-0.085},{"s":11,"t":0.52,"v":-0.08},{"s":11,"t":0.53,"v":-0.09},{"s":11,"t":0.54,"v":-0.095},{"s":11,"t":0.55,"v":-0.10},{"s":11,"t":0.56,"v":-0.09},{"s":11,"t":0.57,"v":-0.11},{"s":11,"t":0.58,"v":-0.12},{"s":11,"t":0.59,"v":-0.10},{"s":11,"t":0.5995,"v":-0.105},
{"s":11,"t":0.6005,"v":-0.16},{"s":11,"t":0.604,"v":-0.17},{"s":11,"t":0.608,"v":-0.18},{"s":11,"t":0.614,"v":-0.2},{"s":11,"t":0.62,"v":-0.21},{"s":11,"t":0.628,"v":-0.22},{"s":11,"t":0.636,"v":-0.24},{"s":11,"t":0.644,"v":-0.25},{"s":11,"t":0.652,"v":-0.265},{"s":11,"t":0.66,"v":-0.27},{"s":11,"t":0.668,"v":-0.29},{"s":11,"t":0.676,"v":-0.3},{"s":11,"t":0.684,"v":-0.31},{"s":11,"t":0.692,"v":-0.3},{"s":11,"t":0.6995,"v":-0.31},

{"s":12,"t":0.001,"v":-0.49},{"s":12,"t":0.008,"v":-0.51},{"s":12,"t":0.015,"v":-0.49},{"s":12,"t":0.022,"v":-0.5},{"s":12,"t":0.029,"v":-0.495},{"s":12,"t":0.036,"v":-0.48},{"s":12,"t":0.0405,"v":-0.49},{"s":12,"t":0.0415,"v":-0.58},{"s":12,"t":0.045,"v":-0.59},{"s":12,"t":0.0495,"v":-0.6},{"s":12,"t":0.0505,"v":-0.5},{"s":12,"t":0.057,"v":-0.49},{"s":12,"t":0.064,"v":-0.5},{"s":12,"t":0.071,"v":-0.495},{"s":12,"t":0.078,"v":-0.505},{"s":12,"t":0.085,"v":-0.495},{"s":12,"t":0.092,"v":-0.5},{"s":12,"t":0.0995,"v":-0.49},
{"s":12,"t":0.1005,"v":0.40},{"s":12,"t":0.104,"v":0.41},{"s":12,"t":0.108,"v":0.42},{"s":12,"t":0.114,"v":0.41},{"s":12,"t":0.12,"v":0.42},{"s":12,"t":0.127,"v":0.43},{"s":12,"t":0.134,"v":0.42},{"s":12,"t":0.141,"v":0.43},{"s":12,"t":0.148,"v":0.44},{"s":12,"t":0.156,"v":0.43},{"s":12,"t":0.164,"v":0.44},{"s":12,"t":0.172,"v":0.43},{"s":12,"t":0.18,"v":0.44},{"s":12,"t":0.19,"v":0.45},{"s":12,"t":0.2,"v":0.44},{"s":12,"t":0.21,"v":0.45},{"s":12,"t":0.22,"v":0.44},{"s":12,"t":0.23,"v":0.45},{"s":12,"t":0.24,"v":0.44},{"s":12,"t":0.25,"v":0.45},{"s":12,"t":0.26,"v":0.44},{"s":12,"t":0.27,"v":0.45},{"s":12,"t":0.28,"v":0.44},{"s":12,"t":0.29,"v":0.45},{"s":12,"t":0.3,"v":0.46},{"s":12,"t":0.31,"v":0.45},{"s":12,"t":0.32,"v":0.46},{"s":12,"t":0.33,"v":0.47},{"s":12,"t":0.34,"v":0.48},{"s":12,"t":0.35,"v":0.47},{"s":12,"t":0.36,"v":0.46},{"s":12,"t":0.37,"v":0.45},{"s":12,"t":0.38,"v":0.44},{"s":12,"t":0.39,"v":0.45},{"s":12,"t":0.3995,"v":0.45},
{"s":12,"t":0.4005,"v":-0.34},{"s":12,"t":0.405,"v":-0.31},{"s":12,"t":0.41,"v":-0.305},{"s":12,"t":0.42,"v":-0.31},{"s":12,"t":0.43,"v":-0.315},{"s":12,"t":0.44,"v":-0.32},{"s":12,"t":0.45,"v":-0.31},{"s":12,"t":0.46,"v":-0.30},{"s":12,"t":0.47,"v":-0.285},{"s":12,"t":0.48,"v":-0.27},{"s":12,"t":0.49,"v":-0.26},{"s":12,"t":0.5,"v":-0.245},{"s":12,"t":0.51,"v":-0.23},{"s":12,"t":0.52,"v":-0.215},{"s":12,"t":0.53,"v":-0.21},{"s":12,"t":0.54,"v":-0.195},{"s":12,"t":0.55,"v":-0.185},{"s":12,"t":0.56,"v":-0.18},{"s":12,"t":0.57,"v":-0.17},{"s":12,"t":0.58,"v":-0.16},{"s":12,"t":0.59,"v":-0.155},{"s":12,"t":0.5995,"v":-0.15},
{"s":12,"t":0.6005,"v":-0.32},{"s":12,"t":0.604,"v":-0.31},{"s":12,"t":0.608,"v":-0.30},{"s":12,"t":0.614,"v":-0.31},{"s":12,"t":0.62,"v":-0.305},{"s":12,"t":0.628,"v":-0.31},{"s":12,"t":0.636,"v":-0.3},{"s":12,"t":0.644,"v":-0.315},{"s":12,"t":0.652,"v":-0.32},{"s":12,"t":0.66,"v":-0.31},{"s":12,"t":0.668,"v":-0.325},{"s":12,"t":0.676,"v":-0.32},{"s":12,"t":0.684,"v":-0.33},{"s":12,"t":0.692,"v":-0.32},{"s":12,"t":0.6995,"v":-0.33}
]},
"mark":{"type":"line","color":"#0000ff","strokeWidth":2},
"encoding":{
"x":{"field":"t","type":"quantitative","title":"t [s]","scale":{"domain":[-0.0266,0.7266],"nice":false,"zero":false},
"axis":{"values":[0.1,0.35,0.6],"labelExpr":"toString(datum.value)"}},
"y":{"field":"v","type":"quantitative","title":"I [nA]","scale":{"domain":[-0.6626,1.3705],"nice":false,"zero":false},
"axis":{"values":[-0.5,0,0.5,1],"labelExpr":"toString(datum.value)"}},
"detail":{"field":"s","type":"nominal"}
}},
{"data":{"values":[{}]},
"mark":{"type":"text","text":"Kv7.4\u00a0\u00a0Rat\u00a0\u00a0CHO\u00a0\u00a015 °C","font":"DejaVu Sans","fontSize":22,"fontWeight":"bold","color":"#000000","align":"center","baseline":"alphabetic"},
"encoding":{"x":{"datum":0.156,"type":"quantitative","title":"t [s]","axis":{"values":[0.1,0.35,0.6],"labelExpr":"toString(datum.value)"}},"y":{"datum":1.366,"type":"quantitative","title":"I [nA]","axis":{"values":[-0.5,0,0.5,1],"labelExpr":"toString(datum.value)"}}}},
{"data":{"values":[{}]},
"mark":{"type":"text","text":"Deactivation","font":"DejaVu Sans","fontSize":22,"color":"#000000","align":"right","baseline":"alphabetic"},
"encoding":{"x":{"datum":0.71,"type":"quantitative","title":"t [s]","axis":{"values":[0.1,0.35,0.6],"labelExpr":"toString(datum.value)"}},"y":{"datum":1.366,"type":"quantitative","title":"I [nA]","axis":{"values":[-0.5,0,0.5,1],"labelExpr":"toString(datum.value)"}}}},
{"data":{"values":[{}]},
"mark":{"type":"text","text":"BBP Channelpedia ID 25780 rep 2","font":"DejaVu Sans","fontSize":22,"color":"#000000","align":"center","baseline":"alphabetic","angle":270},
"encoding":{"x":{"datum":0.7286,"type":"quantitative","title":"t [s]","axis":{"values":[0.1,0.35,0.6],"labelExpr":"toString(datum.value)"}},"y":{"datum":0.3544,"type":"quantitative","title":"I [nA]","axis":{"values":[-0.5,0,0.5,1],"labelExpr":"toString(datum.value)"}}}}
]
}
